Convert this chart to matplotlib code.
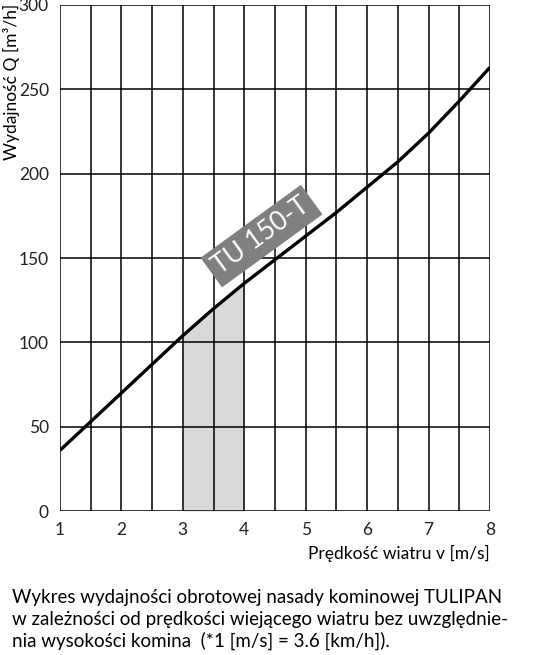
import matplotlib.pyplot as plt
import numpy as np

plt.rcParams['font.family'] = ['Lato', 'DejaVu Sans']

# wind speed [m/s] and capacity [m3/h]
speed = [1.0, 1.5, 2.0, 2.5, 3.0, 3.5, 4.0, 4.5, 5.0, 5.5, 6.0, 6.5, 7.0, 7.5, 8.0]
flow = [36, 53, 70, 87, 104, 120, 135, 149, 163, 177, 192, 207, 224, 243, 263]
band = [3.0, 4.0]
label = 'TU 150-T'
caption = ['Wykres wydajności obrotowej nasady kominowej TULIPAN',
           'w zależności od prędkości wiejącego wiatru bez uwzględnie-',
           'nia wysokości komina  (*1 [m/s] = 3.6 [km/h]).']

fig = plt.figure(figsize=(5.33, 6.55), dpi=100)
ax = fig.add_axes([0.1126, 0.2198, 0.8066, 0.7726])

xs = np.linspace(band[0], band[1], 50)
ax.fill_between(xs, 0, np.interp(xs, speed, flow), color='#d9d9d9', lw=0, zorder=1)

for v in np.arange(1, 8.01, 0.5):
    ax.axvline(v, color='black', lw=1.1, zorder=2)
for q in range(0, 301, 50):
    ax.axhline(q, color='black', lw=1.1, zorder=2)

ax.plot(speed, flow, color='black', lw=2.4, zorder=4, solid_capstyle='butt',
        solid_joinstyle='round')

ax.text(4.28, 163, label, rotation=36, ha='center', va='center', color='white',
        fontsize=19, zorder=5,
        bbox=dict(boxstyle='square,pad=0.22', fc='#808080', ec='none'))

ax.set_xlim(1, 8)
ax.set_ylim(0, 300)
ax.set_xticks(range(1, 9))
ax.set_yticks(range(0, 301, 50))
ax.tick_params(length=0, labelsize=12.5, pad=8, colors='#222222')
for s in ax.spines.values():
    s.set_visible(False)

fig.text(0.919, 0.155, 'Prędkość wiatru v [m/s]', ha='right', va='center', fontsize=12.5)
fig.text(0.022, 0.995, 'Wydajność Q [m³/h]', rotation=90, ha='center', va='top', fontsize=12.5)

for i, line in enumerate(caption):
    fig.text(0.022, 0.088 - i * 0.0335, line, ha='left', va='center', fontsize=13.5)

fig.savefig('out.png', dpi=100)
